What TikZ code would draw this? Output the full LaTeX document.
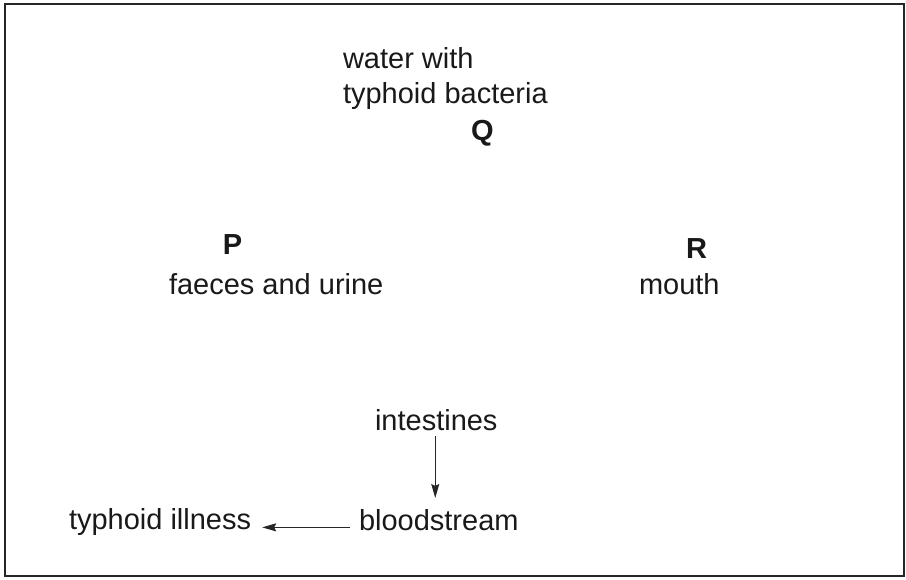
\documentclass[tikz,border=0pt]{standalone}
\usepackage{fontspec}
\setmainfont{Liberation Sans}
\usetikzlibrary{arrows.meta}
\begin{document}
\begin{tikzpicture}[x=1pt,y=-1pt,
  lbl/.style={inner sep=0pt,outer sep=0pt,font=\fontsize{29}{35}\selectfont,text=black!90},
  letter/.style={lbl,font=\fontsize{29}{35}\selectfont\bfseries},
  arr/.style={line width=1.2pt,draw=black!85,-{Stealth[length=14pt,width=8pt,inset=2pt]}}]
\useasboundingbox (0,0) rectangle (906,579);
\draw[line width=2pt,draw=black!85] (5,4) rectangle (904,576);
\node[lbl,align=left,anchor=base west] (water) at (343,103) {water with\\typhoid bacteria};
\node[letter,anchor=base] (Q) at (482.5,140) {Q};
\node[letter,anchor=base] (P) at (232.5,254) {P};
\node[lbl,anchor=base west] (faeces) at (169,294) {faeces and urine};
\node[letter,anchor=base] (R) at (696.5,258) {R};
\node[lbl,anchor=base west] (mouth) at (639,294) {mouth};
\node[lbl,anchor=base west] (intestines) at (375,430) {intestines};
\node[lbl,anchor=base west] (blood) at (359,530) {bloodstream};
\node[lbl,anchor=base west] (illness) at (69,529) {typhoid illness};
\coordinate (dtop) at ([xshift=-1pt,yshift=-6pt]intestines.south);
\coordinate (btop) at ([yshift=11pt]blood.north);
\coordinate (lstart) at ([xshift=-9pt]blood.mid west);
\coordinate (lend) at ([xshift=11pt]illness.east);
\draw[arr] (dtop) -- (dtop |- btop);
\draw[arr] (lstart) -- (lstart -| lend);
\end{tikzpicture}
\end{document}
